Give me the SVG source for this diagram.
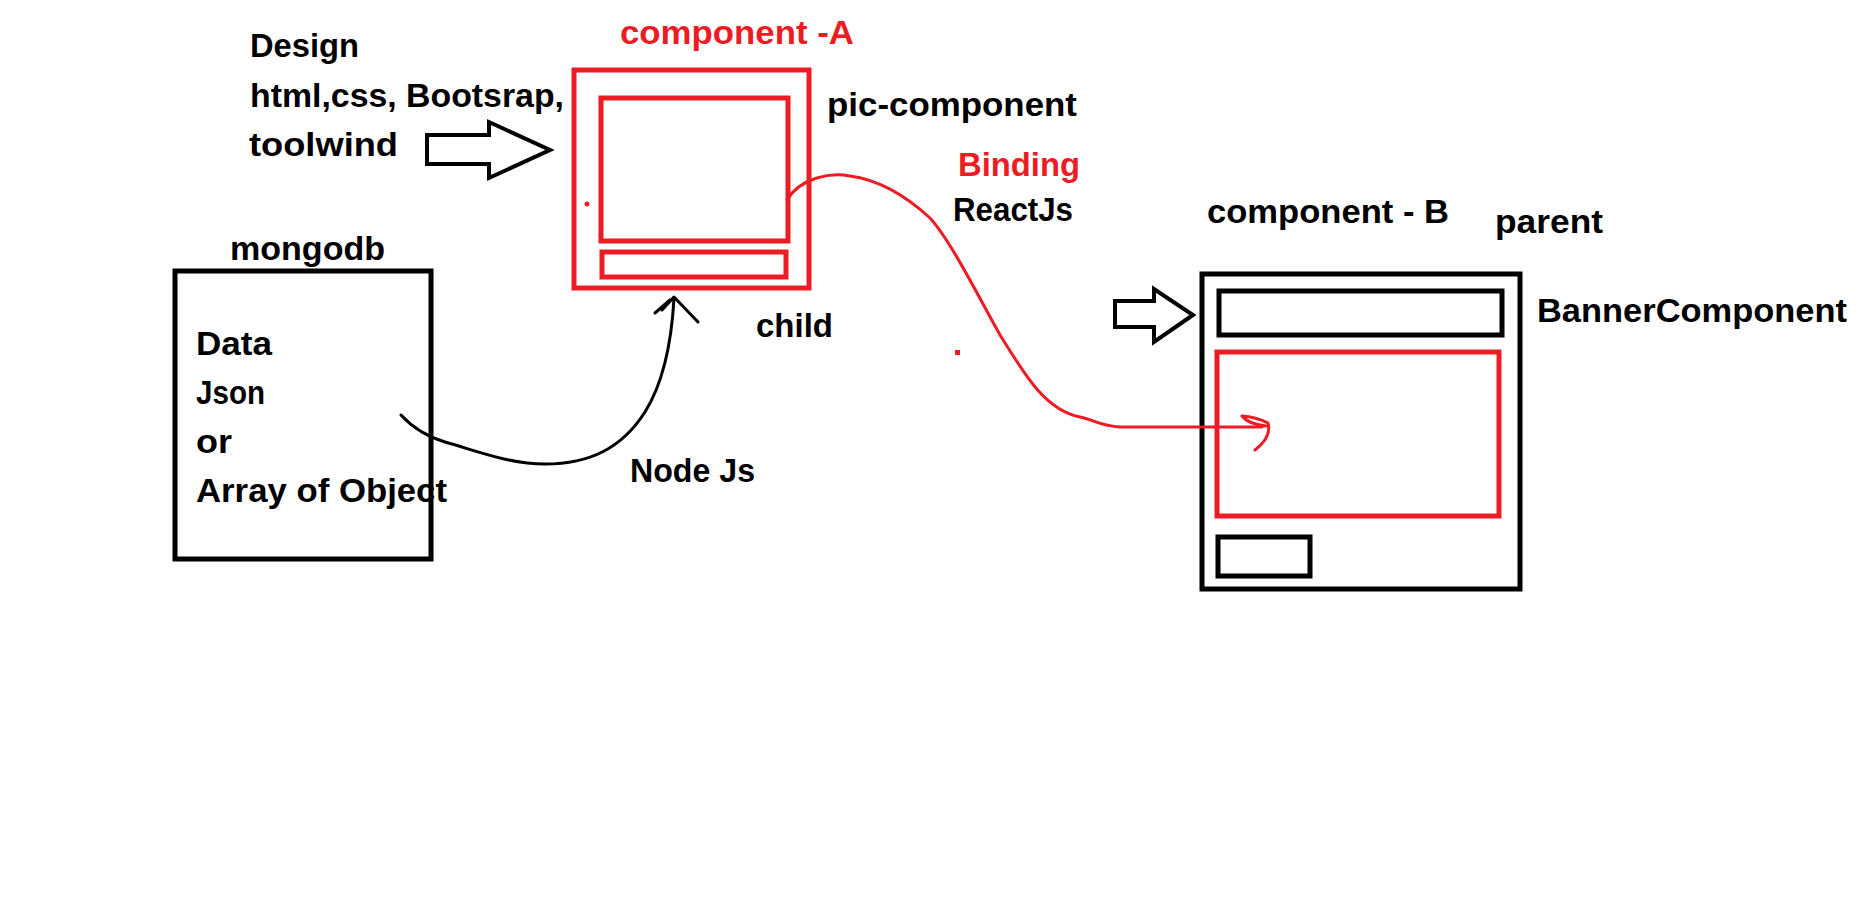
<svg xmlns="http://www.w3.org/2000/svg" width="1870" height="923" viewBox="0 0 1870 923">
<style>
text{font-family:"Liberation Sans",Arial,sans-serif;font-weight:bold;font-size:34px;fill:#000}
.red{fill:#ED1C24}
.rbox{fill:none;stroke:#ED1C24;stroke-width:5}
.kbox{fill:none;stroke:#000;stroke-width:5}
.harrow{fill:#fff;stroke:#000;stroke-width:4;stroke-linejoin:miter}
.kline{fill:none;stroke:#000;stroke-width:3;stroke-linecap:round;stroke-linejoin:round}
.rline{fill:none;stroke:#ED1C24;stroke-width:3;stroke-linecap:round;stroke-linejoin:round}
</style>
<rect width="1870" height="923" fill="#fff"/>

<g id="design">
<text x="250" y="57" textLength="109" lengthAdjust="spacingAndGlyphs">Design</text>
<text x="250" y="107" textLength="314" lengthAdjust="spacingAndGlyphs">html,css, Bootsrap,</text>
<text x="249" y="156" textLength="149" lengthAdjust="spacingAndGlyphs">toolwind</text>
<polygon class="harrow" points="427,135 489,135 489,122 550,150 489,178 489,164 427,164"/>
</g>

<g id="component-a">
<text class="red" x="620" y="44" textLength="234" lengthAdjust="spacingAndGlyphs">component -A</text>
<rect class="rbox" x="574" y="70" width="235" height="218"/>
<rect class="rbox" x="601" y="98" width="187" height="143"/>
<rect class="rbox" x="602" y="252" width="184" height="25"/>
<circle cx="587" cy="204" r="2.5" fill="#ED1C24"/>
<text x="827" y="116" textLength="250" lengthAdjust="spacingAndGlyphs">pic-component</text>
<text x="756" y="337" textLength="77" lengthAdjust="spacingAndGlyphs">child</text>
</g>

<g id="mongodb">
<text x="230" y="260" textLength="155" lengthAdjust="spacingAndGlyphs">mongodb</text>
<rect class="kbox" x="175" y="271" width="256" height="288" stroke-width="4.5"/>
<text x="196" y="355" textLength="76" lengthAdjust="spacingAndGlyphs">Data</text>
<text x="196" y="404" textLength="69" lengthAdjust="spacingAndGlyphs">Json</text>
<text x="196" y="453" textLength="36" lengthAdjust="spacingAndGlyphs">or</text>
<text x="196" y="502" textLength="251" lengthAdjust="spacingAndGlyphs">Array of Object</text>
</g>

<g id="component-b">
<text x="1207" y="223" textLength="242" lengthAdjust="spacingAndGlyphs">component - B</text>
<text x="1495" y="233" textLength="108" lengthAdjust="spacingAndGlyphs">parent</text>
<rect class="kbox" x="1202" y="274" width="318" height="315"/>
<rect class="kbox" x="1219" y="291" width="283" height="44"/>
<rect class="rbox" x="1217" y="352" width="282" height="164"/>
<rect class="kbox" x="1218" y="537" width="92" height="39"/>
<polygon class="harrow" points="1115,301 1154,301 1154,289 1193,315 1154,342 1154,327 1115,327"/>
<text x="1537" y="322" textLength="310" lengthAdjust="spacingAndGlyphs">BannerComponent</text>
</g>

<g id="connectors">
<g id="nodejs-link">
<path class="kline" d="M401,415 C412,427 425,436 445,442 C480,452 510,464 545,464 C590,464 622,448 645,412 C665,380 672,335 674,298"/>
<path class="kline" d="M655,313 L670,300 L662,310 L674,297 L698,322"/>
<text x="630" y="482" textLength="125" lengthAdjust="spacingAndGlyphs">Node Js</text>
</g>
<g id="binding-link">
<path class="rline" d="M787,200 C800,178 830,172 850,176 C880,180 905,195 930,218 C950,240 975,290 1000,335 C1025,375 1045,410 1080,417 C1095,420 1100,426 1120,427 L1262,427"/>
<path class="rline" d="M1242,416 Q1256,417 1268,423 Q1272,437 1255,450 M1242,416 Q1248,424 1266,426"/>
<rect x="955" y="350" width="5" height="5" fill="#ED1C24"/>
<text class="red" x="958" y="176" textLength="122" lengthAdjust="spacingAndGlyphs">Binding</text>
<text x="953" y="221" textLength="120" lengthAdjust="spacingAndGlyphs">ReactJs</text>
</g>
</g>
</svg>
